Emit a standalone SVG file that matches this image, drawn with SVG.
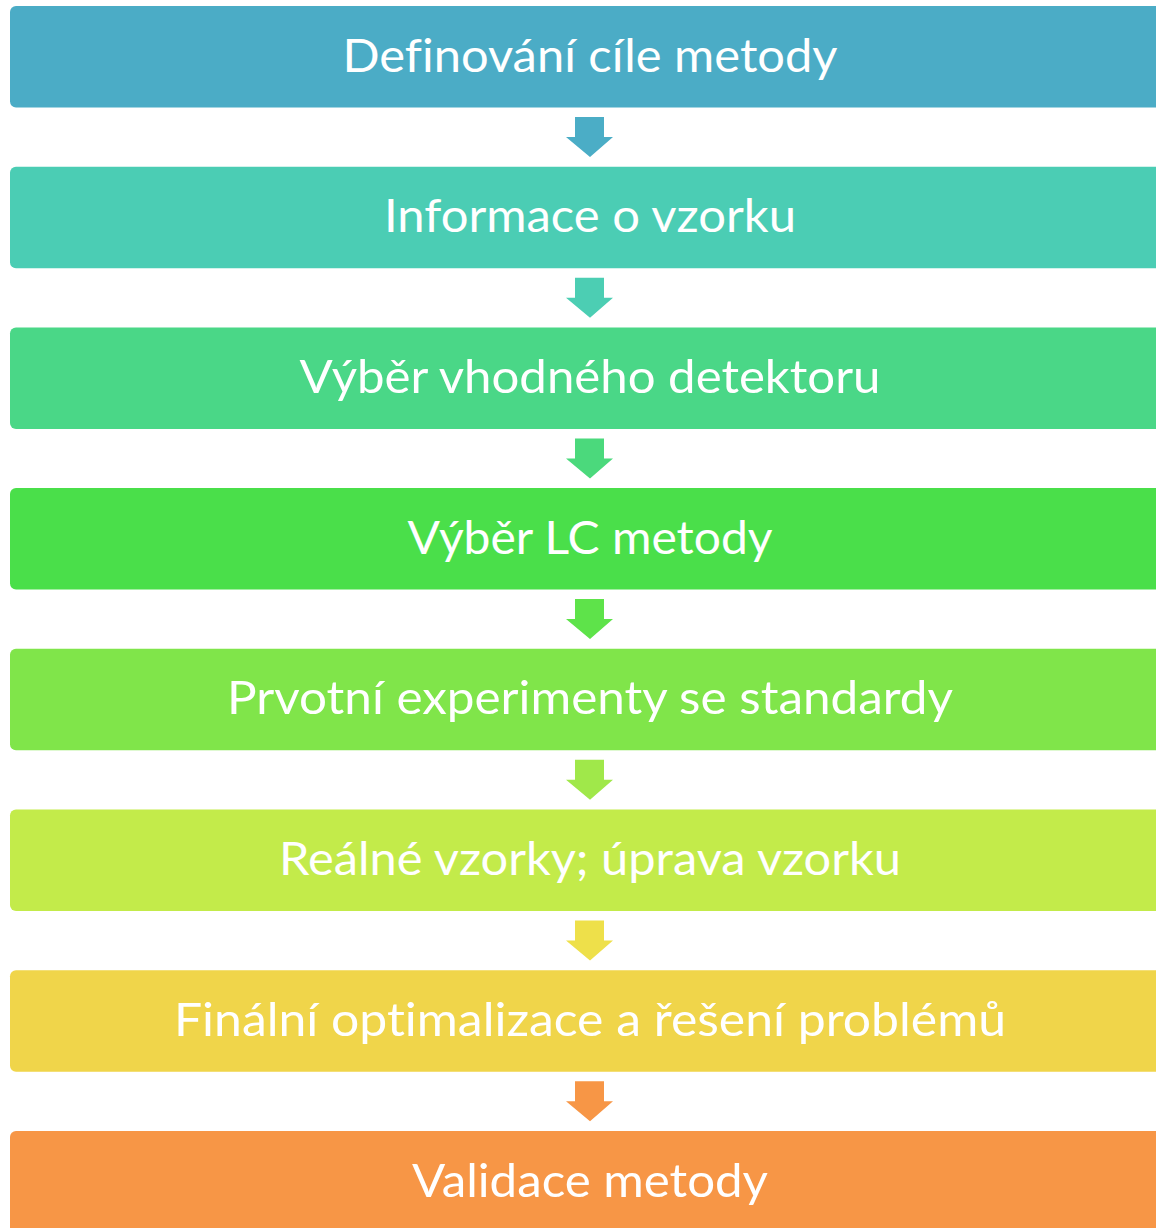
<svg xmlns="http://www.w3.org/2000/svg" width="1156" height="1228" viewBox="0 0 1156 1228">
<style>
.box{stroke:none}
.lbl{font-family:Lato,"Open Sans","Liberation Sans",sans-serif;font-size:47px;fill:#ffffff;text-anchor:middle;font-variant-ligatures:none}
</style>
<defs>
<path id="arr" d="M575,0 H604 V20 H613 L590,40 L566,20 H575 Z"/>
</defs>
<rect width="1156" height="1228" fill="#ffffff"/>
<g id="connectors">
<use href="#arr" transform="translate(0,117)" fill="#4BADC6"/>
<use href="#arr" transform="translate(0,277.7)" fill="#4CCEB3"/>
<use href="#arr" transform="translate(0,438.4)" fill="#4BD97C"/>
<use href="#arr" transform="translate(0,599.1)" fill="#5EE34A"/>
<use href="#arr" transform="translate(0,759.8)" fill="#A0E84A"/>
<use href="#arr" transform="translate(0,920.5)" fill="#EEE04A"/>
<use href="#arr" transform="translate(0,1081.2)" fill="#F79646"/>
</g>
<g id="n1"><rect class="box" x="10" y="6" width="1160" height="101.5" rx="6" fill="#4BACC6"/><text class="lbl" x="590" y="71.5" textLength="495" lengthAdjust="spacingAndGlyphs">Definování cíle metody</text></g>
<g id="n2"><rect class="box" x="10" y="166.7" width="1160" height="101.5" rx="6" fill="#4BCDB4"/><text class="lbl" x="590" y="232.2" textLength="412" lengthAdjust="spacingAndGlyphs">Informace o vzorku</text></g>
<g id="n3"><rect class="box" x="10" y="327.4" width="1160" height="101.5" rx="6" fill="#4AD787"/><text class="lbl" x="590" y="392.9" textLength="581" lengthAdjust="spacingAndGlyphs">Výběr vhodného detektoru</text></g>
<g id="n4"><rect class="box" x="10" y="488.1" width="1160" height="101.5" rx="6" fill="#4ADF4A"/><text class="lbl" x="590" y="553.6" textLength="365" lengthAdjust="spacingAndGlyphs">Výběr LC metody</text></g>
<g id="n5"><rect class="box" x="10" y="648.8" width="1160" height="101.5" rx="6" fill="#80E54A"/><text class="lbl" x="590" y="714.3" textLength="726" lengthAdjust="spacingAndGlyphs">Prvotní experimenty se standardy</text></g>
<g id="n6"><rect class="box" x="10" y="809.5" width="1160" height="101.5" rx="6" fill="#C3EB4A"/><text class="lbl" x="590" y="875" textLength="622" lengthAdjust="spacingAndGlyphs">Reálné vzorky; úprava vzorku</text></g>
<g id="n7"><rect class="box" x="10" y="970.2" width="1160" height="101.5" rx="6" fill="#F0D54A"/><text class="lbl" x="590" y="1036" textLength="832" lengthAdjust="spacingAndGlyphs">Finální optimalizace a řešení problémů</text></g>
<g id="n8"><rect class="box" x="10" y="1131" width="1160" height="110" rx="6" fill="#F79646"/><text class="lbl" x="590" y="1196.5" textLength="356" lengthAdjust="spacingAndGlyphs">Validace metody</text></g>
</svg>
